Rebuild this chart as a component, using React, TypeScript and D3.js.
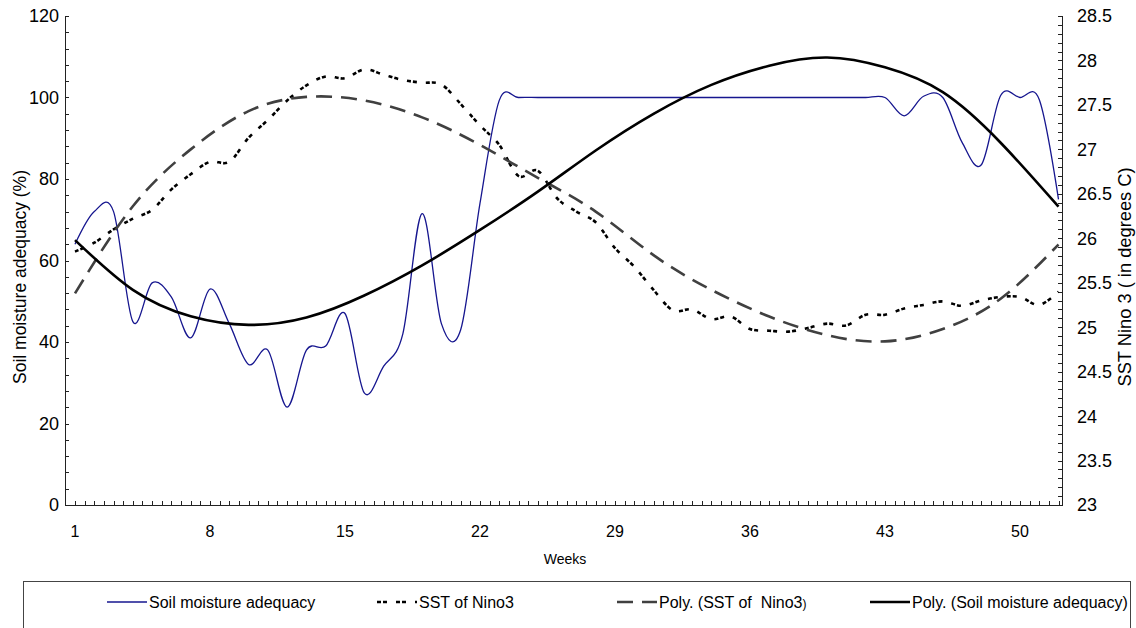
import React from "react";
import * as d3 from "d3";

const weeks: number[] = d3.range(1, 53);
const xTickLabels = [1, 8, 15, 22, 29, 36, 43, 50];
const leftTickValues = [0, 20, 40, 60, 80, 100, 120];
const rightTickValues = [23, 23.5, 24, 24.5, 25, 25.5, 26, 26.5, 27, 27.5, 28, 28.5];

// Soil moisture adequacy (%) – left axis
const soilMoisture = [
  64, 72, 72, 45, 54.5, 51, 41, 53, 44.5, 34.5,
  38, 24, 38, 39, 47, 27.5, 34, 42, 71.5, 44.5,
  43, 74, 99.3, 100, 100, 100, 100, 100, 100, 100,
  100, 100, 100, 100, 100, 100, 100, 100, 100, 100,
  100, 100, 100, 95.5, 100.3, 100, 89, 83.5, 100.5, 100,
  99.5, 75,
];

// SST of Nino3 (degrees C) – right axis
const sstNino3 = [
  25.85, 25.95, 26.1, 26.22, 26.32, 26.55, 26.72, 26.86, 26.86, 27.13,
  27.33, 27.55, 27.72, 27.82, 27.8, 27.9, 27.84, 27.78, 27.75, 27.73,
  27.51, 27.27, 27.05, 26.7, 26.76, 26.45, 26.3, 26.18, 25.89, 25.68,
  25.42, 25.19, 25.2, 25.09, 25.12, 24.98, 24.96, 24.95, 24.99, 25.04,
  25.02, 25.14, 25.14, 25.21, 25.25, 25.29, 25.24, 25.3, 25.34, 25.34,
  25.25, 25.4,
];

// Trendline readings (weeks at which they were read)
const trendWeeks = [1, 4, 7, 10, 13, 16, 19, 22, 25, 28, 31, 34, 37, 40, 43, 46, 49, 52];
const sstPoly = [25.38, 26.36, 27.0, 27.43, 27.59, 27.55, 27.36, 27.05, 26.68, 26.3, 25.81, 25.42, 25.12, 24.91, 24.84, 24.98, 25.32, 25.93];
const soilPoly = [65, 52.8, 46.3, 44.2, 46.0, 51.4, 58.8, 67.5, 76.9, 87.0, 96.0, 103.1, 107.8, 109.8, 107.4, 101.3, 88.9, 73.2];

const legendItems = [
  { label: "Soil moisture adequacy", color: "#16168f", width: 1.4, dash: "", x: 107 },
  { label: "SST of Nino3", color: "#000", width: 2.6, dash: "4 2 4 9", x: 377 },
  { label: "Poly. (SST of  Nino3", tail: ")", color: "#404040", width: 2.6, dash: "16 9", x: 617 },
  { label: "Poly. (Soil moisture adequacy)", color: "#000", width: 2.6, dash: "", x: 870 },
];

const FONT = "'Liberation Sans', Arial, Helvetica, sans-serif";

export default function App() {
  const left = 65, right = 1062, top = 16, bottom = 505;
  const x = d3.scaleLinear().domain([1, 52]).range([75, 1058.5]);
  const yL = d3.scaleLinear().domain([0, 120]).range([bottom, top]);
  const yR = d3.scaleLinear().domain([23, 28.5]).range([bottom, top]);

  const smooth = d3.curveCatmullRom.alpha(0);
  const soilLine = d3.line<number>().x((_, i) => x(weeks[i])).y((d) => yL(d)).curve(smooth);
  const sstLine = d3.line<number>().x((_, i) => x(weeks[i])).y((d) => yR(d)).curve(smooth);
  const sstPolyLine = d3.line<number>().x((_, i) => x(trendWeeks[i])).y((d) => yR(d)).curve(d3.curveNatural);
  const soilPolyLine = d3.line<number>().x((_, i) => x(trendWeeks[i])).y((d) => yL(d)).curve(d3.curveNatural);

  const xMinor = d3.range(1, 52.01, 0.5);
  const yLMinor = d3.range(0, 120.01, 4);
  const yRMinor = d3.range(23, 28.501, 0.1);

  return (
    <svg width={1136} height={628} style={{ position: "absolute", left: 0, top: 0, background: "#fff" }} fontFamily={FONT}>
      {/* axes */}
      <g stroke="#222" strokeWidth={1} shapeRendering="crispEdges">
        <line x1={left + 0.5} x2={left + 0.5} y1={top} y2={bottom} />
        <line x1={right + 0.5} x2={right + 0.5} y1={top} y2={bottom} />
        <line x1={left} x2={right + 1} y1={bottom + 0.5} y2={bottom + 0.5} />
        {xMinor.map((w) => (
          <line key={"xt" + w} x1={Math.round(x(w)) + 0.5} x2={Math.round(x(w)) + 0.5} y1={bottom} y2={bottom - 4} />
        ))}
        {yLMinor.map((v) => (
          <line key={"yl" + v} x1={left} x2={left + 4} y1={Math.round(yL(v)) + 0.5} y2={Math.round(yL(v)) + 0.5} />
        ))}
        {yRMinor.map((v) => (
          <line key={"yr" + v} x1={right} x2={right - 4} y1={Math.round(yR(v)) + 0.5} y2={Math.round(yR(v)) + 0.5} />
        ))}
      </g>

      {/* tick labels */}
      <g fontSize={18} fill="#000">
        {leftTickValues.map((v) => (
          <text key={"l" + v} x={59} y={yL(v)} dy="0.36em" textAnchor="end">{v}</text>
        ))}
        {rightTickValues.map((v) => (
          <text key={"r" + v} x={1077} y={yR(v)} dy="0.36em" textAnchor="start">{v}</text>
        ))}
        {xTickLabels.map((w) => (
          <text key={"x" + w} x={x(w)} y={537} textAnchor="middle" fontSize={16}>{w}</text>
        ))}
      </g>

      {/* axis titles */}
      <text transform="translate(26,277) rotate(-90)" textAnchor="middle" fontSize={17.5}>Soil moisture adequacy (%)</text>
      <text transform="translate(1131,277) rotate(-90)" textAnchor="middle" fontSize={18.3}>SST Nino 3 ( in degrees C)</text>
      <text x={565} y={564} textAnchor="middle" fontSize={14}>Weeks</text>

      {/* series */}
      <path d={soilLine(soilMoisture) || ""} fill="none" stroke="#16168f" strokeWidth={1.3} />
      <path d={sstLine(sstNino3) || ""} fill="none" stroke="#000" strokeWidth={2.6} strokeDasharray="4 2 4 9" />
      <path d={sstPolyLine(sstPoly) || ""} fill="none" stroke="#404040" strokeWidth={2.6} strokeDasharray="16 9" />
      <path d={soilPolyLine(soilPoly) || ""} fill="none" stroke="#000" strokeWidth={2.6} />

      {/* legend */}
      <rect x={23.5} y={581.5} width={1107} height={60} fill="none" stroke="#444" strokeWidth={1} />
      {legendItems.map((it) => (
        <g key={it.label}>
          <line x1={it.x} x2={it.x + 40} y1={602} y2={602} stroke={it.color} strokeWidth={it.width} strokeDasharray={it.dash || undefined} />
          <text x={it.x + 42} y={608} fontSize={16} style={{ whiteSpace: "pre" }}>
            {it.label}
            {it.tail ? <tspan fontSize={12}>{it.tail}</tspan> : null}
          </text>
        </g>
      ))}
    </svg>
  );
}
